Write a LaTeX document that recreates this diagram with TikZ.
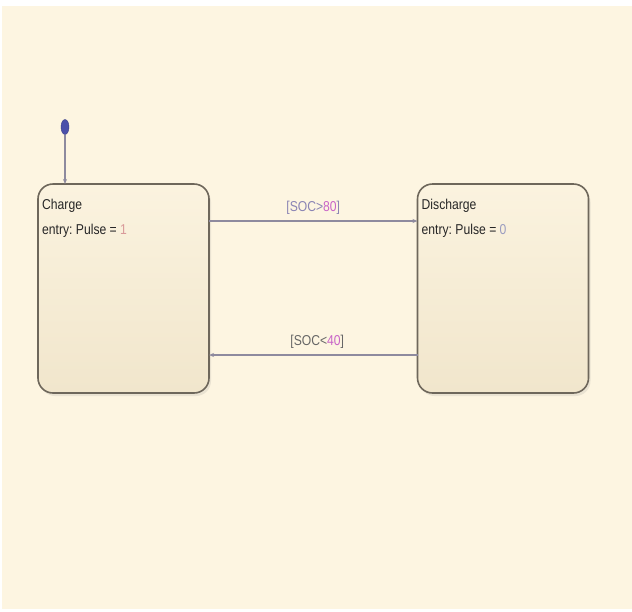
\documentclass[tikz,border=0pt]{standalone}
\usepackage{fontspec}
\setmainfont{Liberation Sans}
\newfontfamily\chartfont[FakeStretch=0.85]{Liberation Sans}
\frenchspacing
\usetikzlibrary{arrows.meta,positioning,shapes.geometric,shadows}
\definecolor{bgcream}{HTML}{FDF5E1}
\definecolor{stfilltop}{HTML}{FBF3DF}
\definecolor{stfillbot}{HTML}{F1E6CC}
\definecolor{stedge}{HTML}{6E675B}
\definecolor{trline}{HTML}{8E8A9E}
\definecolor{dotblue}{HTML}{4B50AA}
\definecolor{condgray}{HTML}{8A84B4}
\definecolor{condmag}{HTML}{C864C8}
\definecolor{valred}{HTML}{D99A9A}
\definecolor{valblue}{HTML}{9A9CC0}

\tikzset{
  chartstate/.style={draw=stedge,line width=1.6pt,rounded corners=15pt,
    top color=stfilltop,bottom color=stfillbot,
    minimum width=171pt,minimum height=209pt,inner sep=0pt,outer sep=0pt,
    drop shadow={shadow xshift=2pt,shadow yshift=-3pt,opacity=0.15}},
  statetext/.style={anchor=base west,inner sep=0pt,text=black!85,
    font=\chartfont\fontsize{14.3}{16}\selectfont},
  trans/.style={draw=trline,line width=1.3pt,-{Stealth[open,length=5pt,width=4pt]}},
  condlabel/.style={font=\chartfont\fontsize{14.3}{16}\selectfont,inner sep=1pt},
  initdot/.style={ellipse,fill=dotblue,draw=dotblue!80!black,minimum width=8pt,
    minimum height=15pt,inner sep=0pt}
}

\begin{document}
\begin{tikzpicture}[x=1pt,y=-1pt]
  \useasboundingbox (0,0) rectangle (632,611);
  \fill[bgcream] (2,6) rectangle (632,609);

  \node[chartstate] (charge) at (123.5,288.5) {};
  \node[chartstate] (discharge) at (503,288.5) {};

  \node[statetext] (chargename) at ([xshift=4pt,yshift=-25pt]charge.north west) {Charge};
  \node[statetext] (chargeentry) at ([xshift=4pt,yshift=-50pt]charge.north west)
        {entry: Pulse = \textcolor{valred}{1}};
  \node[statetext] (dischargename) at ([xshift=4pt,yshift=-25pt]discharge.north west) {Discharge};
  \node[statetext] (dischargeentry) at ([xshift=4pt,yshift=-50pt]discharge.north west)
        {entry: Pulse = \textcolor{valblue}{0}};

  \node[initdot] (init) at (65,127) {};
  \draw[trans] (init.south) -- (init.south |- charge.north);

  \draw[trans] ([yshift=67.5pt]charge.east) -- node[condlabel,above=5pt]
        {\textcolor{condgray}{[SOC>}\textcolor{condmag}{80}\textcolor{condgray}{]}}
        ([yshift=67.5pt]discharge.west);
  \draw[trans] ([yshift=-66.5pt]discharge.west) -- node[condlabel,above=5pt,xshift=4pt]
        {\textcolor{black!60}{[SOC<}\textcolor{condmag}{40}\textcolor{black!60}{]}}
        ([yshift=-66.5pt]charge.east);
\end{tikzpicture}
\end{document}
